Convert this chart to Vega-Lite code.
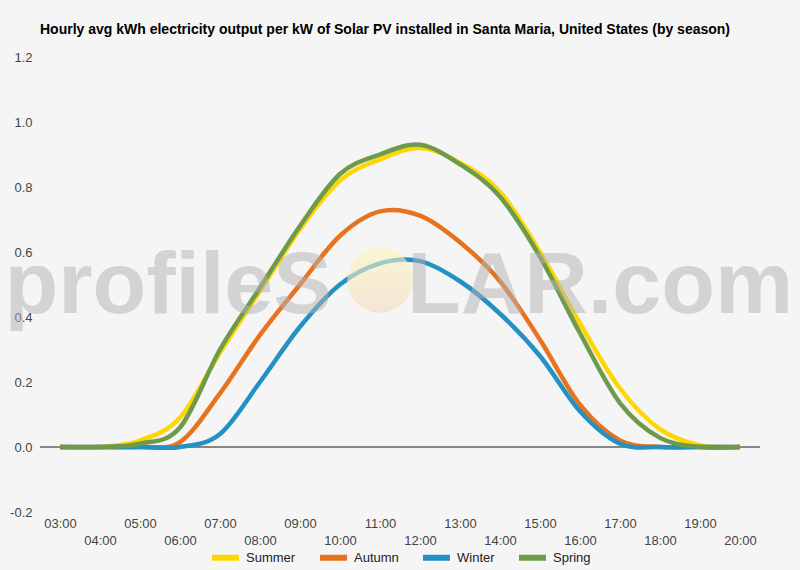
{
  "$schema": "https://vega.github.io/schema/vega-lite/v6.json",
  "width": 720,
  "height": 455,
  "autosize": {"type": "none"},
  "padding": {"left": 40, "top": 57, "right": 40, "bottom": 58},
  "background": "#f5f5f5",
  "title": {
    "text": "Hourly avg kWh electricity output per kW of Solar PV installed in Santa Maria, United States (by season)",
    "anchor": "start",
    "frame": "group",
    "font": "Liberation Sans",
    "fontSize": 14,
    "fontWeight": "bold",
    "color": "#000000",
    "offset": 14
  },
  "config": {
    "view": {"stroke": null},
    "font": "Liberation Sans"
  },
  "datasets": {
    "output": [
      {"hour": "03:00", "season": "Summer", "kwh": 0},
      {"hour": "04:00", "season": "Summer", "kwh": 0},
      {"hour": "05:00", "season": "Summer", "kwh": 0.02},
      {"hour": "06:00", "season": "Summer", "kwh": 0.09},
      {"hour": "07:00", "season": "Summer", "kwh": 0.29},
      {"hour": "08:00", "season": "Summer", "kwh": 0.48},
      {"hour": "09:00", "season": "Summer", "kwh": 0.67},
      {"hour": "10:00", "season": "Summer", "kwh": 0.82},
      {"hour": "11:00", "season": "Summer", "kwh": 0.885},
      {"hour": "12:00", "season": "Summer", "kwh": 0.92},
      {"hour": "13:00", "season": "Summer", "kwh": 0.875},
      {"hour": "14:00", "season": "Summer", "kwh": 0.785},
      {"hour": "15:00", "season": "Summer", "kwh": 0.6},
      {"hour": "16:00", "season": "Summer", "kwh": 0.38},
      {"hour": "17:00", "season": "Summer", "kwh": 0.18},
      {"hour": "18:00", "season": "Summer", "kwh": 0.055},
      {"hour": "19:00", "season": "Summer", "kwh": 0.005},
      {"hour": "20:00", "season": "Summer", "kwh": 0},
      {"hour": "03:00", "season": "Autumn", "kwh": 0},
      {"hour": "04:00", "season": "Autumn", "kwh": 0},
      {"hour": "05:00", "season": "Autumn", "kwh": 0},
      {"hour": "06:00", "season": "Autumn", "kwh": 0.015},
      {"hour": "07:00", "season": "Autumn", "kwh": 0.165},
      {"hour": "08:00", "season": "Autumn", "kwh": 0.345},
      {"hour": "09:00", "season": "Autumn", "kwh": 0.5},
      {"hour": "10:00", "season": "Autumn", "kwh": 0.65},
      {"hour": "11:00", "season": "Autumn", "kwh": 0.725},
      {"hour": "12:00", "season": "Autumn", "kwh": 0.712},
      {"hour": "13:00", "season": "Autumn", "kwh": 0.63},
      {"hour": "14:00", "season": "Autumn", "kwh": 0.51},
      {"hour": "15:00", "season": "Autumn", "kwh": 0.33},
      {"hour": "16:00", "season": "Autumn", "kwh": 0.13},
      {"hour": "17:00", "season": "Autumn", "kwh": 0.02},
      {"hour": "18:00", "season": "Autumn", "kwh": 0},
      {"hour": "19:00", "season": "Autumn", "kwh": 0},
      {"hour": "20:00", "season": "Autumn", "kwh": 0},
      {"hour": "03:00", "season": "Winter", "kwh": 0},
      {"hour": "04:00", "season": "Winter", "kwh": 0},
      {"hour": "05:00", "season": "Winter", "kwh": 0},
      {"hour": "06:00", "season": "Winter", "kwh": 0},
      {"hour": "07:00", "season": "Winter", "kwh": 0.04},
      {"hour": "08:00", "season": "Winter", "kwh": 0.2},
      {"hour": "09:00", "season": "Winter", "kwh": 0.37},
      {"hour": "10:00", "season": "Winter", "kwh": 0.5},
      {"hour": "11:00", "season": "Winter", "kwh": 0.565},
      {"hour": "12:00", "season": "Winter", "kwh": 0.572},
      {"hour": "13:00", "season": "Winter", "kwh": 0.51},
      {"hour": "14:00", "season": "Winter", "kwh": 0.41},
      {"hour": "15:00", "season": "Winter", "kwh": 0.28},
      {"hour": "16:00", "season": "Winter", "kwh": 0.11},
      {"hour": "17:00", "season": "Winter", "kwh": 0.01},
      {"hour": "18:00", "season": "Winter", "kwh": 0},
      {"hour": "19:00", "season": "Winter", "kwh": 0},
      {"hour": "20:00", "season": "Winter", "kwh": 0},
      {"hour": "03:00", "season": "Spring", "kwh": 0},
      {"hour": "04:00", "season": "Spring", "kwh": 0},
      {"hour": "05:00", "season": "Spring", "kwh": 0.01},
      {"hour": "06:00", "season": "Spring", "kwh": 0.06},
      {"hour": "07:00", "season": "Spring", "kwh": 0.3},
      {"hour": "08:00", "season": "Spring", "kwh": 0.49},
      {"hour": "09:00", "season": "Spring", "kwh": 0.68},
      {"hour": "10:00", "season": "Spring", "kwh": 0.84},
      {"hour": "11:00", "season": "Spring", "kwh": 0.9},
      {"hour": "12:00", "season": "Spring", "kwh": 0.93},
      {"hour": "13:00", "season": "Spring", "kwh": 0.87},
      {"hour": "14:00", "season": "Spring", "kwh": 0.77},
      {"hour": "15:00", "season": "Spring", "kwh": 0.585},
      {"hour": "16:00", "season": "Spring", "kwh": 0.35},
      {"hour": "17:00", "season": "Spring", "kwh": 0.135},
      {"hour": "18:00", "season": "Spring", "kwh": 0.028},
      {"hour": "19:00", "season": "Spring", "kwh": 0},
      {"hour": "20:00", "season": "Spring", "kwh": 0}
    ]
  },
  "layer": [
    {
      "data": {"values": [{}]},
      "mark": {"type": "rule", "color": "#1a1a1a", "strokeWidth": 1},
      "encoding": {"y": {"datum": 0, "type": "quantitative"}}
    },
    {
      "data": {"name": "output"},
      "mark": {"type": "line", "interpolate": "cardinal", "strokeWidth": 4.5, "strokeCap": "butt"},
      "encoding": {
        "x": {
          "field": "hour",
          "type": "ordinal",
          "scale": {"type": "point", "padding": 0.5},
          "axis": {
            "title": null,
            "ticks": false,
            "domain": false,
            "grid": false,
            "labelAngle": 0,
            "labelOverlap": false,
            "labelBound": false,
            "labelFont": "Liberation Sans",
            "labelFontSize": 13,
            "labelColor": "#444444",
            "labelPadding": 5,
            "labelLineHeight": 17,
            "labelExpr": "toNumber(slice(datum.value, 0, 2)) % 2 === 0 ? ['', datum.label] : datum.label"
          }
        },
        "y": {
          "field": "kwh",
          "type": "quantitative",
          "scale": {"domain": [-0.2, 1.2], "nice": false, "zero": false},
          "axis": {
            "title": null,
            "ticks": false,
            "domain": false,
            "values": [-0.2, -0.1, 0, 0.1, 0.2, 0.3, 0.4, 0.5, 0.6, 0.7, 0.8, 0.9, 1.0, 1.1, 1.2],
            "labelExpr": "round(datum.value * 10) % 2 !== 0 ? '' : (datum.value < 0 ? '-' + format(abs(datum.value), '.1f') : format(datum.value, '.1f'))",
            "gridColor": {"condition": {"test": "round(datum.value * 10) % 2 !== 0", "value": "#e2e2e2"}, "value": "#cccccc"},
            "labelFont": "Liberation Sans",
            "labelFontSize": 13,
            "labelColor": "#444444",
            "labelPadding": 8,
            "labelOverlap": false
          }
        },
        "color": {
          "field": "season",
          "type": "nominal",
          "scale": {
            "domain": ["Summer", "Autumn", "Winter", "Spring"],
            "range": ["#FFD700", "#E8731F", "#2391C3", "#6E9A4B"]
          },
          "legend": {
            "orient": "none",
            "legendX": 169,
            "legendY": 484,
            "direction": "horizontal",
            "title": null,
            "symbolType": "stroke",
            "symbolStrokeWidth": 6,
            "symbolSize": 729,
            "labelFont": "Liberation Sans",
            "labelFontSize": 13,
            "labelColor": "#222222",
            "columnPadding": 12
          }
        }
      }
    },
    {
      "data": {"values": [{}]},
      "mark": {
        "type": "point",
        "filled": true,
        "size": 4300,
        "opacity": 0.6,
        "dx": -9,
        "color": {
          "gradient": "linear",
          "x1": 0, "y1": 0, "x2": 0, "y2": 1,
          "stops": [
            {"offset": 0, "color": "#fbf8bd"},
            {"offset": 1, "color": "#f6d9c0"}
          ]
        }
      },
      "encoding": {
        "x": {"datum": "11:00", "type": "ordinal"},
        "y": {"datum": 0.514, "type": "quantitative"}
      }
    },
    {
      "data": {"values": [{"word": "profileS"}]},
      "mark": {
        "type": "text",
        "font": "Liberation Sans",
        "fontSize": 88,
        "fontWeight": "bold",
        "baseline": "alphabetic",
        "align": "right",
        "dx": -48,
        "color": "#b3b3b3",
        "opacity": 0.5
      },
      "encoding": {
        "x": {"datum": "11:00", "type": "ordinal"},
        "y": {"datum": 0.412, "type": "quantitative"},
        "text": {"field": "word"}
      }
    },
    {
      "data": {"values": [{"word": "LAR.com"}]},
      "mark": {
        "type": "text",
        "font": "Liberation Sans",
        "fontSize": 88,
        "fontWeight": "bold",
        "baseline": "alphabetic",
        "align": "left",
        "dx": 27,
        "color": "#b3b3b3",
        "opacity": 0.5
      },
      "encoding": {
        "x": {"datum": "11:00", "type": "ordinal"},
        "y": {"datum": 0.412, "type": "quantitative"},
        "text": {"field": "word"}
      }
    }
  ]
}
